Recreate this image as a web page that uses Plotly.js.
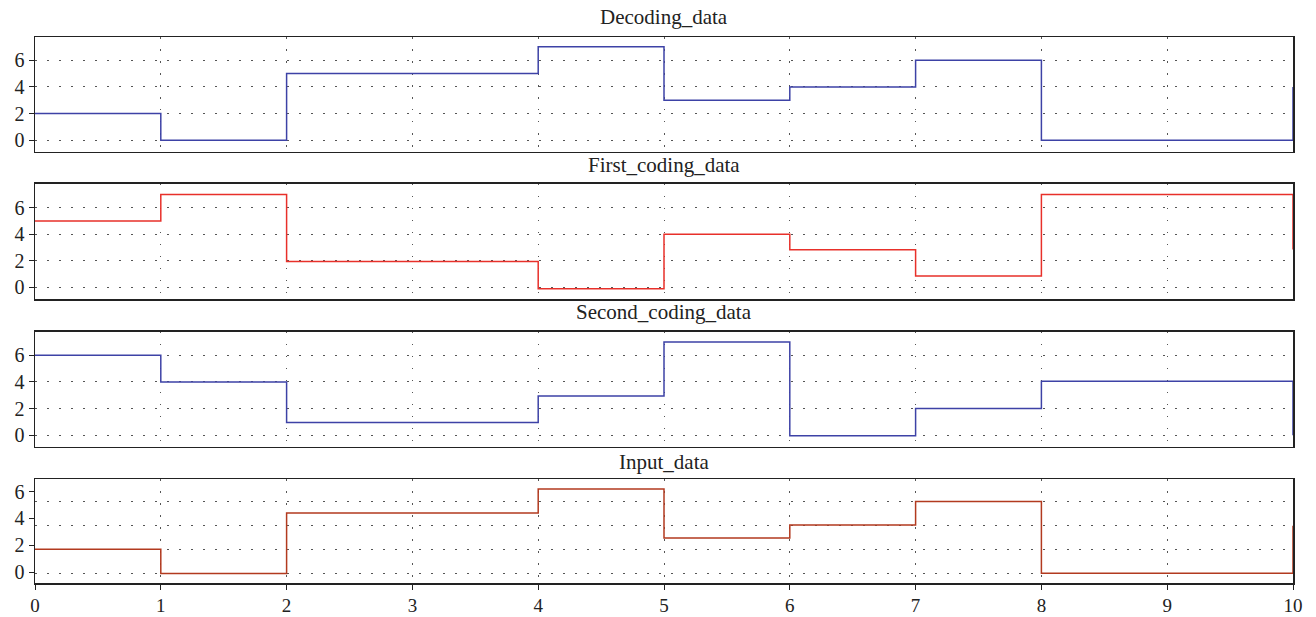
<!DOCTYPE html>
<html>
<head>
<meta charset="utf-8">
<script src="https://cdn.plot.ly/plotly-3.0.1.min.js"></script>
<style>html,body{margin:0;padding:0;background:#fff;}#chart{width:1316px;height:617px;}</style>
</head>
<body>
<div id="chart"></div>
<script>
// ---- data ----
const time = [0, 1, 2, 3, 4, 5, 6, 7, 8, 9, 10];
const decodingData     = [2, 0, 5, 5, 7, 3, 4, 6, 0, 0, 4];
const firstCodingData  = [5, 7, 1.95, 1.95, -0.1, 4, 2.83, 0.85, 7, 7, 2.85];
const secondCodingData = [6, 4, 0.95, 0.95, 2.95, 7, -0.03, 2, 4.05, 4.05, 0];
const inputData        = [1.7, -0.12, 4.4, 4.4, 6.2, 2.53, 3.5, 5.26, -0.1, -0.1, 3.45];
const panelTitles = ["Decoding_data", "First_coding_data", "Second_coding_data", "Input_data"];
const yTicks = [0, 2, 4, 6];
const xTicks = [0, 1, 2, 3, 4, 5, 6, 7, 8, 9, 10];

const W = 1316, H = 617, mT = 37, mB = 34, mL = 35, mR = 23;
const plotH = H - mT - mB;
const fy = py => (H - mB - py) / plotH;

const blue = "#3d42a6", red = "#e8302a", brown = "#b23a1f";
const serif = "'Liberation Serif', 'DejaVu Serif', serif";

function tr(y, color, xa, ya) {
  return {x: time, y: y, type: "scatter", mode: "lines", line: {shape: "hv", color: color, width: 1.5},
          xaxis: xa, yaxis: ya, hoverinfo: "skip", showlegend: false};
}
const data = [
  tr(decodingData, blue, "x", "y"),
  tr(firstCodingData, red, "x2", "y2"),
  tr(secondCodingData, blue, "x3", "y3"),
  tr(inputData, brown, "x4", "y4")
];

const gridDash = "1.5px,10.5px";
const gridColor = "#555";
function xax(anchor, showLabels) {
  return {range: [0, 10], anchor: anchor, showline: true, mirror: true, linecolor: "#222", linewidth: 1.5,
          showgrid: true, gridcolor: gridColor, griddash: gridDash, gridwidth: 1,
          tickmode: "array", tickvals: xTicks, zeroline: false,
          showticklabels: showLabels, ticks: showLabels ? "outside" : "", ticklen: 5, tickcolor: "#222",
          tickfont: {family: serif, size: 19, color: "#222"}, fixedrange: true};
}
function yax(domain, range, anchor, grid) {
  return {domain: domain, range: range, anchor: anchor, showline: true, mirror: true, linecolor: "#222", linewidth: 1.5,
          showgrid: grid, gridcolor: gridColor, griddash: gridDash, gridwidth: 1,
          tickmode: "array", tickvals: yTicks, zeroline: false, ticks: "outside", ticklen: 5, tickcolor: "#222",
          tickfont: {family: serif, size: 20, color: "#222"}, fixedrange: true};
}

const d1 = [fy(151.7), fy(36.7)];
const d2 = [fy(299), fy(183.7)];
const d3 = [fy(446.7), fy(331.7)];
const d4 = [fy(583.3), fy(479.3)];

// grid-only overlay for the Input_data panel
data.push({x: [0], y: [0], type: "scatter", mode: "markers", marker: {opacity: 0}, xaxis: "x4", yaxis: "y5",
           hoverinfo: "skip", showlegend: false});

const layout = {
  width: W, height: H, margin: {l: mL, r: mR, t: mT, b: mB}, paper_bgcolor: "#fff", plot_bgcolor: "rgba(0,0,0,0)",
  showlegend: false,
  xaxis: xax("y", false), xaxis2: xax("y2", false), xaxis3: xax("y3", false), xaxis4: xax("y4", true),
  yaxis: yax(d1, [-0.86, 7.74], "x", true),
  yaxis2: yax(d2, [-0.88, 7.81], "x2", true),
  yaxis3: yax(d3, [-0.86, 7.77], "x3", true),
  yaxis4: yax(d4, [-0.82, 6.92], "x4", false),
  yaxis5: {overlaying: "y4", range: [-0.84, 7.88], anchor: "x4", showgrid: true, gridcolor: gridColor, griddash: gridDash,
           gridwidth: 1, tickmode: "array", tickvals: yTicks, showticklabels: false, ticks: "", showline: false,
           zeroline: false, fixedrange: true},
  annotations: panelTitles.map((t, i) => ({text: t, xref: "paper", yref: "paper", x: 0.5,
    y: fy([17, 165, 312, 462][i]), xanchor: "center", yanchor: "middle", showarrow: false,
    font: {family: serif, size: 21, color: "#222"}}))
};
Plotly.newPlot("chart", data, layout, {displayModeBar: false, staticPlot: true});
</script>
</body>
</html>
